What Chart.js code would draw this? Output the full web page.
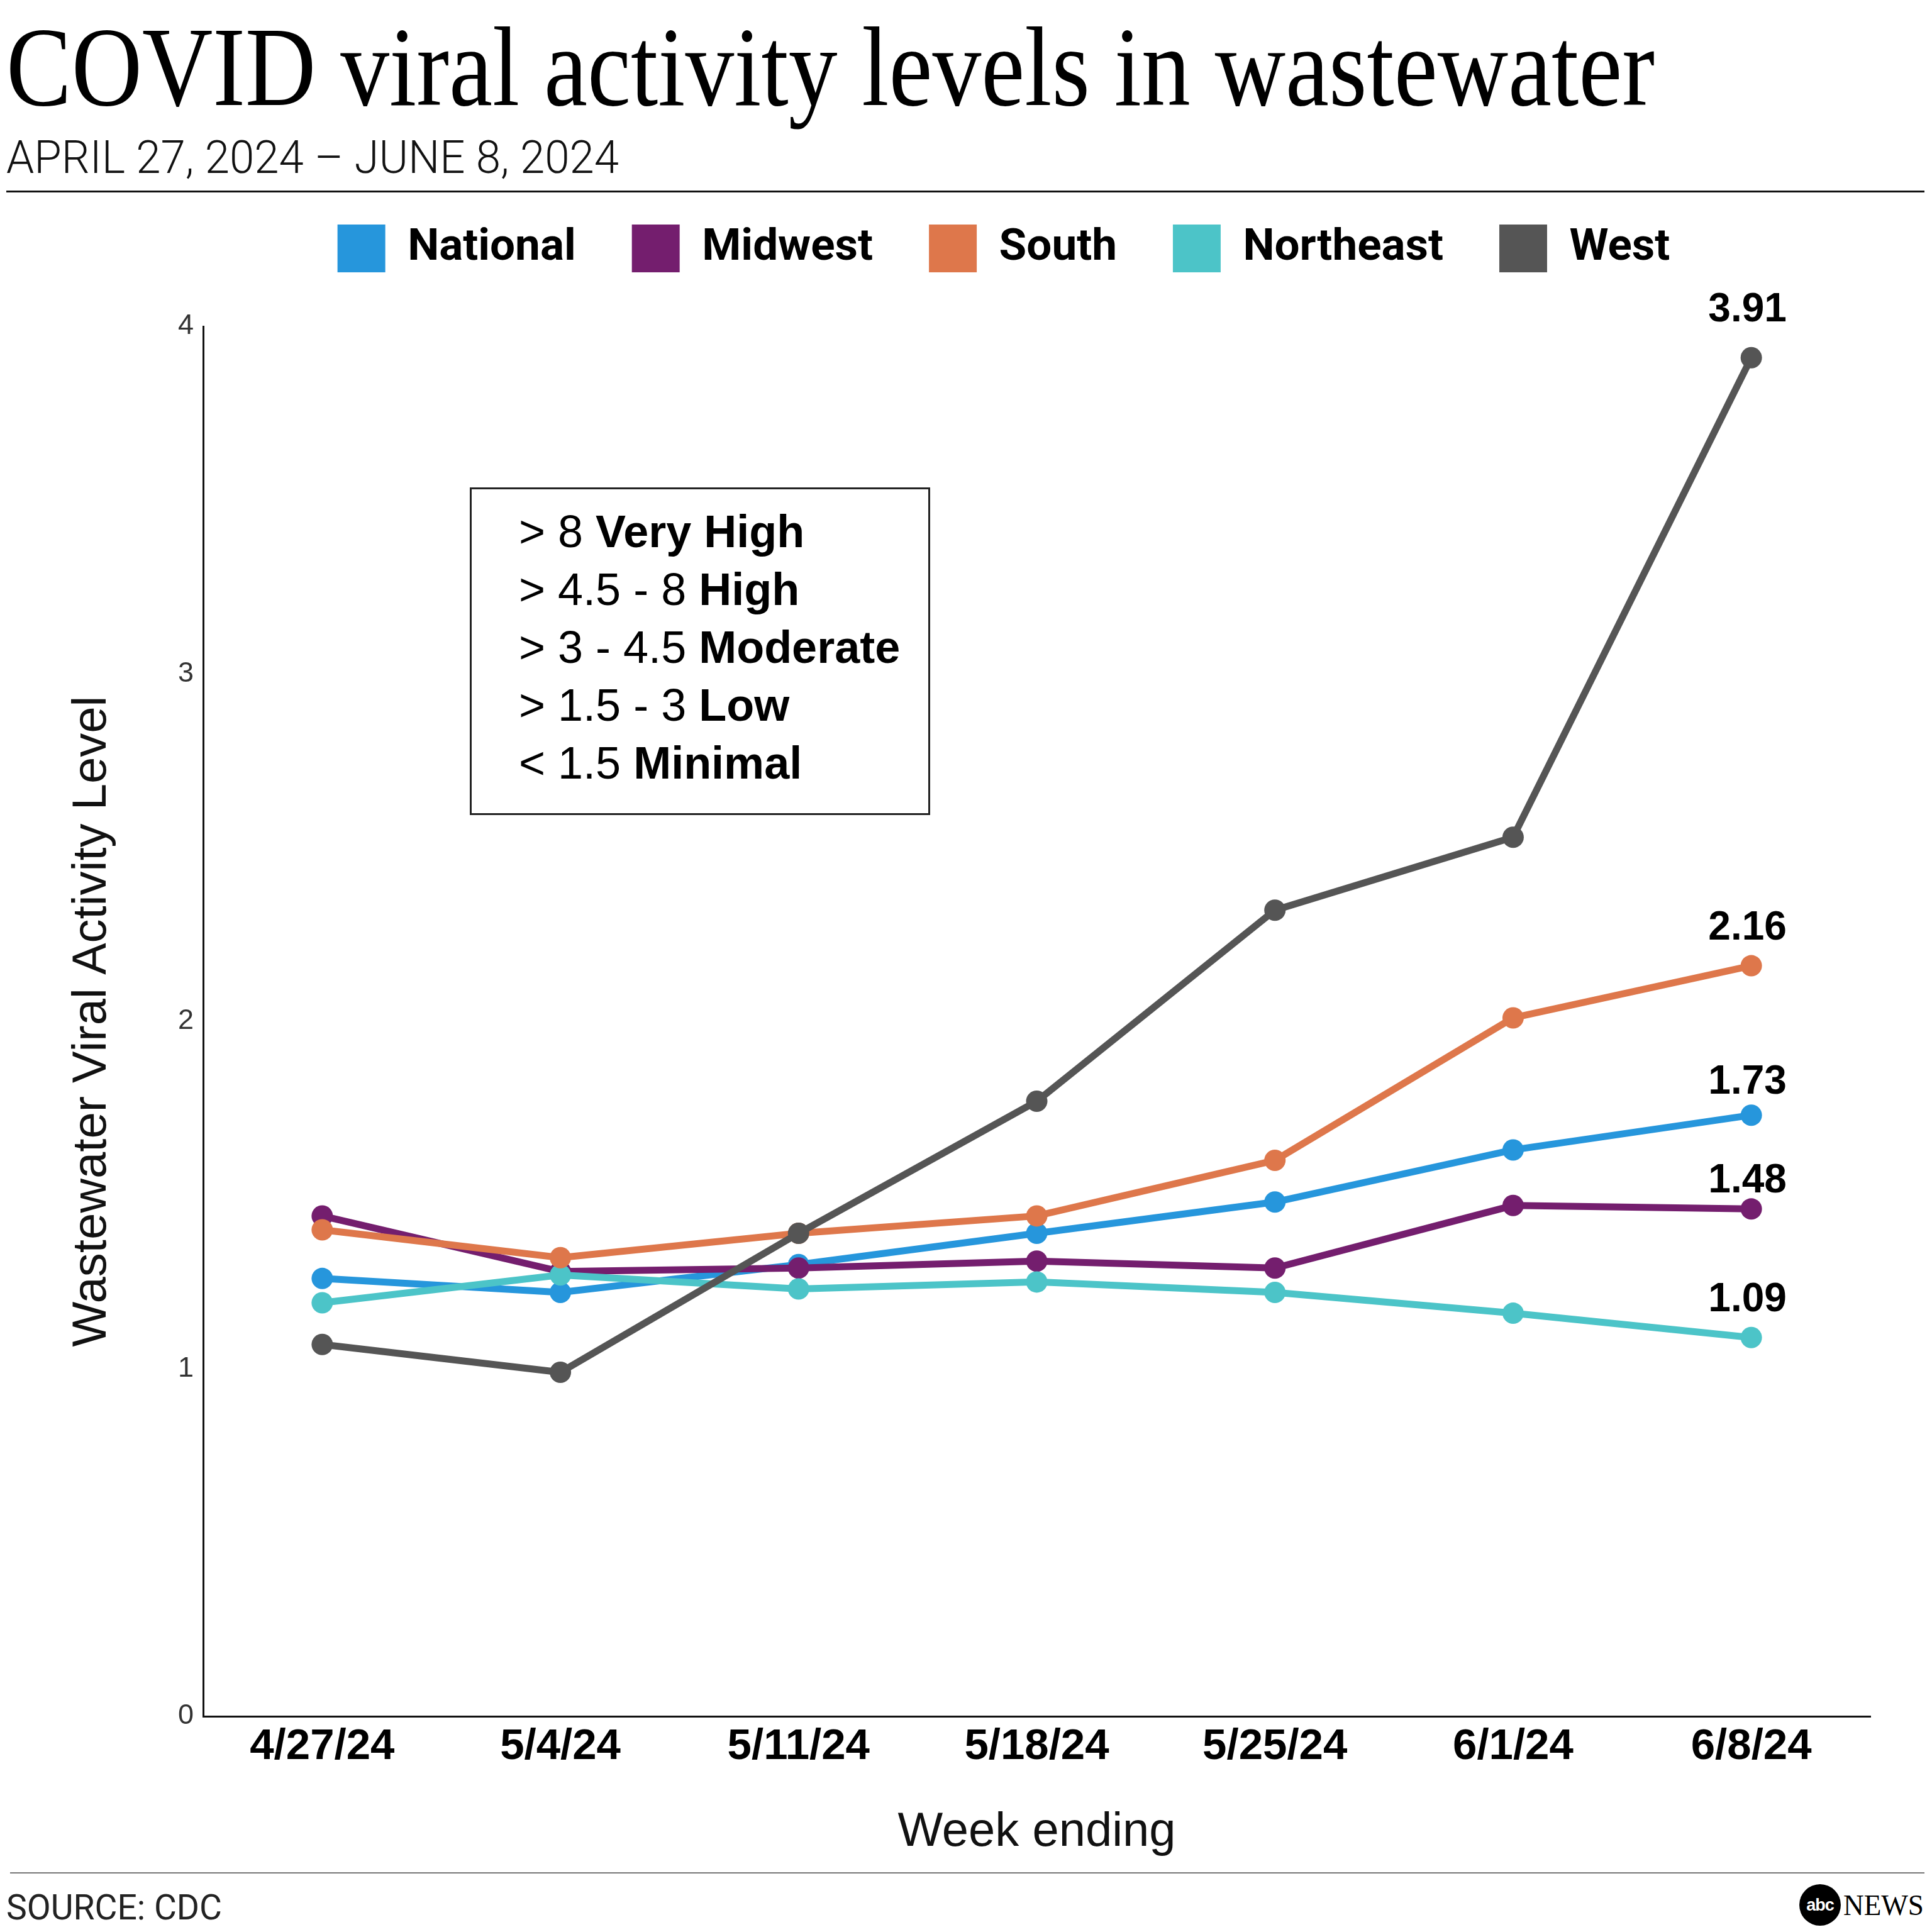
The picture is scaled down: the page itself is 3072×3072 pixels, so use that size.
<!DOCTYPE html>
<html>
<head>
<meta charset="utf-8">
<title>COVID viral activity levels in wastewater</title>
<script src="https://cdn.jsdelivr.net/npm/chart.js@4.4.1/dist/chart.umd.min.js"></script>
<style>
  html, body { margin: 0; padding: 0; background: #fff; }
  body { width: 3072px; height: 3072px; position: relative; overflow: hidden; }
  .abs { position: absolute; white-space: nowrap; }
  .fit { transform-origin: 0 0; display: inline-block; }
  #title { left: 10px; top: 16px; font-family: "Liberation Serif", serif; font-weight: normal; font-size: 181px; line-height: 1; color: #000; }
  #subtitle { left: 10px; top: 215px; font-family: Roboto, "Liberation Sans", sans-serif; font-weight: 300; font-size: 72px; line-height: 1; color: #111; }
  .rule { position: absolute; left: 10px; width: 3050px; }
  #levels { left: 747px; top: 775px; width: 732px; height: 521px; border: 3px solid #222; box-sizing: border-box; }
  #levelText { left: 825px; top: 799px; font-family: "Liberation Sans", Arial, sans-serif; font-size: 72px; line-height: 92px; color: #000; }
  #levelText b { font-weight: bold; }
  #source { left: 10px; top: 3006px; font-family: Roboto, "Liberation Sans", sans-serif; font-size: 55px; line-height: 1; color: #222; }
  #abc { left: 2861px; top: 2996px; width: 66px; height: 66px; border-radius: 50%; background: #000; color: #fff;
         font-family: "Liberation Sans", sans-serif; font-weight: bold; font-size: 27px; line-height: 66px; text-align: center; letter-spacing: -1px; }
  #news { left: 2931px; top: 3007px; font-family: "Liberation Serif", serif; font-size: 46px; line-height: 1; color: #000; }
  #chart { position: absolute; left: 0; top: 268px; }
</style>
</head>
<body>
<div id="title" class="abs fit">COVID viral activity levels in wastewater</div>
<div id="subtitle" class="abs fit">APRIL 27, 2024 – JUNE 8, 2024</div>
<div class="rule" style="top:303px;height:3px;background:#111;"></div>

<canvas id="chart" width="3072" height="2702"></canvas>

<div id="levels" class="abs"></div>
<div id="levelText" class="abs">
  &gt; 8 <b>Very High</b><br>
  &gt; 4.5 - 8 <b>High</b><br>
  &gt; 3 - 4.5 <b>Moderate</b><br>
  &gt; 1.5 - 3 <b>Low</b><br>
  &lt; 1.5 <b>Minimal</b>
</div>

<div class="rule" style="top:2977px;height:2px;background:#777;left:16px;width:3044px;"></div>
<div id="source" class="abs fit">SOURCE: CDC</div>
<div id="abc" class="abs">abc</div>
<div id="news" class="abs fit">NEWS</div>

<script>
// --- data ---
const weeks = ['4/27/24', '5/4/24', '5/11/24', '5/18/24', '5/25/24', '6/1/24', '6/8/24'];
const national  = [1.26, 1.22, 1.30, 1.39, 1.48, 1.63, 1.73];
const midwest   = [1.44, 1.28, 1.29, 1.31, 1.29, 1.47, 1.46];
const south     = [1.40, 1.32, 1.39, 1.44, 1.60, 2.01, 2.16];
const northeast = [1.19, 1.27, 1.23, 1.25, 1.22, 1.16, 1.09];
const west      = [1.07, 0.99, 1.39, 1.77, 2.32, 2.53, 3.91];
const seriesNames = ['National', 'Midwest', 'South', 'Northeast', 'West'];
const endLabels = ['1.73', '1.48', '2.16', '1.09', '3.91'];
const yTicks = [0, 1, 2, 3, 4];

// --- styles ---
const colors = ['#2696dc', '#741e6e', '#de774b', '#4cc4c8', '#555555'];
const drawOrder = [4, 3, 1, 2, 0]; // West on top, National at the bottom
const labelLift = [34, 26, 42, 42, 58]; // px between last point and its label baseline

// stretch header texts to the widths in the original layout
function fitWidth(id, target) {
  const el = document.getElementById(id);
  const w = el.getBoundingClientRect().width;
  el.style.transform = 'scaleX(' + (target / w) + ')';
}
fitWidth('title', 2621);
fitWidth('subtitle', 974);
fitWidth('source', 343);
fitWidth('news', 128);

// value labels above the last point of each line
const endLabelPlugin = {
  id: 'endLabels',
  afterDatasetsDraw(chart) {
    const ctx = chart.ctx;
    ctx.save();
    ctx.font = 'bold 64px "Liberation Sans", Arial, sans-serif';
    ctx.fillStyle = '#000';
    ctx.textAlign = 'center';
    ctx.textBaseline = 'alphabetic';
    chart.data.datasets.forEach((ds, i) => {
      const meta = chart.getDatasetMeta(i);
      const pt = meta.data[meta.data.length - 1];
      ctx.fillText(endLabels[i], pt.x - 6, pt.y - labelLift[i]);
    });
    ctx.restore();
  }
};

const allSeries = [national, midwest, south, northeast, west];

new Chart(document.getElementById('chart'), {
  type: 'line',
  data: {
    labels: weeks,
    datasets: allSeries.map((values, i) => ({
      label: seriesNames[i],
      data: values,
      borderColor: colors[i],
      backgroundColor: colors[i],
      borderWidth: 11,
      pointRadius: 17,
      pointBorderWidth: 0,
      pointBackgroundColor: colors[i],
      tension: 0,
      clip: false,
      order: drawOrder[i]
    }))
  },
  options: {
    responsive: false,
    animation: false,
    devicePixelRatio: 1,
    layout: { padding: { left: 218, right: 98, top: 0, bottom: 0 } },
    plugins: {
      tooltip: { enabled: false },
      legend: {
        position: 'top',
        labels: {
          font: { family: 'Roboto, "Liberation Sans", sans-serif', size: 71, weight: 'bold' },
          color: '#000',
          boxWidth: 76,
          boxHeight: 76,
          padding: 89,
          sort: (a, b) => a.datasetIndex - b.datasetIndex,
          generateLabels: chart => Chart.defaults.plugins.legend.labels.generateLabels(chart).map(item => {
            item.fillStyle = colors[item.datasetIndex];
            item.strokeStyle = colors[item.datasetIndex];
            item.lineWidth = 0;
            return item;
          })
        }
      },
      // empty spacer between legend and plot
      subtitle: {
        display: true,
        text: '',
        weight: 500,
        position: 'top',
        font: { size: 1, lineHeight: 1 },
        padding: { top: 75, bottom: 0 }
      }
    },
    scales: {
      x: {
        type: 'category',
        offset: true,
        grid: { display: false, drawTicks: false },
        border: { display: true, color: '#111', width: 3 },
        ticks: {
          color: '#000',
          padding: 8,
          maxRotation: 0,
          autoSkip: false,
          font: { family: '"Liberation Sans", Arial, sans-serif', size: 69, weight: 'bold' }
        },
        title: {
          display: true,
          text: 'Week ending',
          color: '#111',
          font: { family: '"Liberation Sans", Arial, sans-serif', size: 76, lineHeight: 1 },
          padding: { top: 0, bottom: 18 }
        },
        afterFit: s => { s.height = 241; }
      },
      y: {
        min: yTicks[0],
        max: yTicks[yTicks.length - 1],
        afterBuildTicks: s => { s.ticks = yTicks.map(v => ({ value: v })); },
        grid: { display: false, drawTicks: false },
        border: { display: true, color: '#111', width: 3 },
        ticks: {
          color: '#333',
          padding: 15,
          font: { family: '"Liberation Sans", Arial, sans-serif', size: 45 }
        },
        title: {
          display: true,
          text: 'Wastewater Viral Activity Level',
          color: '#111',
          font: { family: '"Liberation Sans", Arial, sans-serif', size: 76, lineHeight: 1 },
          padding: { top: -109, bottom: 0 }
        },
        afterFit: s => { s.width = 105; }
      }
    }
  },
  plugins: [endLabelPlugin]
});
</script>
</body>
</html>
